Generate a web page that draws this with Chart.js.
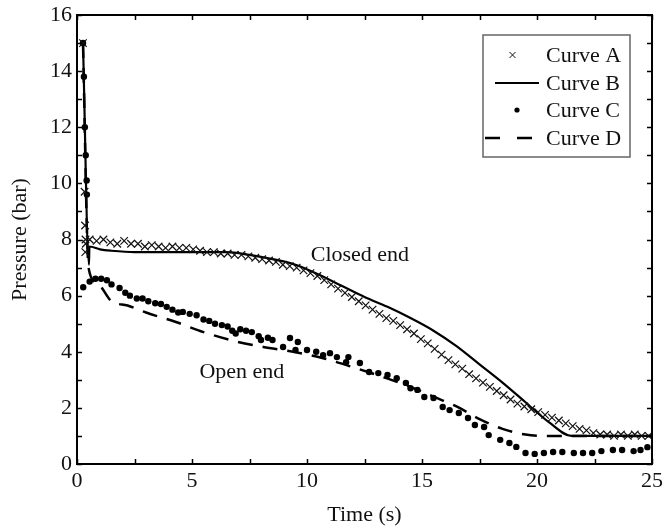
<!DOCTYPE html>
<html>
<head>
<meta charset="utf-8">
<script src="https://cdn.jsdelivr.net/npm/chart.js@4/dist/chart.umd.min.js"></script>
<style>
html,body{margin:0;padding:0;background:#fff;}
#wrap{width:665px;height:531px;}
</style>
</head>
<body>
<div id="wrap"><canvas id="c" width="665" height="531"></canvas></div>
<script>
// ---------------- DATA ----------------
const seriesNames = ['Curve A', 'Curve B', 'Curve C', 'Curve D'];

// Curve A (× markers)
const timeA = [0.26, 0.33, 0.35, 0.36, 0.37, 0.38,
  0.55, 0.85, 1.15, 1.45, 1.75, 2.05, 2.35, 2.65, 2.95, 3.25,
  3.55, 3.85, 4.15, 4.45, 4.75, 5.05, 5.35, 5.65, 5.95, 6.25,
  6.55, 6.85, 7.15, 7.45, 7.75, 8.05, 8.35, 8.65, 8.95, 9.25,
  9.55, 9.85, 10.15, 10.45, 10.75, 11.05, 11.35, 11.65, 11.95, 12.25,
  12.55, 12.85, 13.15, 13.45, 13.75, 14.05, 14.35, 14.65, 14.95, 15.25,
  15.55, 15.85, 16.15, 16.45, 16.75, 17.05, 17.35, 17.65, 17.95, 18.25,
  18.55, 18.85, 19.15, 19.45, 19.75, 20.05, 20.35, 20.65, 20.95, 21.25,
  21.55, 21.85, 22.15, 22.45, 22.75, 23.05, 23.35, 23.65, 23.95, 24.25,
  24.55, 24.85];
const pressureA = [15.0, 9.7, 8.5, 7.55, 8.0, 7.85,
  8.0, 7.95, 8.0, 7.9, 7.85, 7.95, 7.85, 7.85, 7.75, 7.8,
  7.75, 7.7, 7.75, 7.7, 7.7, 7.65, 7.6, 7.55, 7.55, 7.5,
  7.5, 7.45, 7.45, 7.4, 7.35, 7.3, 7.25, 7.2, 7.1, 7.05,
  7.0, 6.9, 6.8, 6.7, 6.55, 6.4, 6.25, 6.1, 5.95, 5.8,
  5.65, 5.5, 5.35, 5.2, 5.1, 4.95, 4.8, 4.65, 4.45, 4.3,
  4.1, 3.9, 3.7, 3.55, 3.4, 3.2, 3.05, 2.9, 2.75, 2.6,
  2.45, 2.3, 2.15, 2.05, 1.95, 1.85, 1.75, 1.65, 1.55, 1.45,
  1.35, 1.25, 1.2, 1.1, 1.05, 1.05, 1.0, 1.05, 1.0, 1.05,
  1.0, 1.0];

// Curve B (solid line)
const timeB = [0.26, 0.52, 0.54, 1.0, 1.5, 2.5, 4.0, 5.5, 6.5, 7.5, 8.5, 9.5, 10.5,
  11.5, 12.5, 13.5, 14.5, 15.5, 16.5, 17.5, 18.5, 19.5, 20.5, 21.5, 25];
const pressureB = [15.0, 7.1, 7.75, 7.65, 7.6, 7.55, 7.55, 7.55, 7.55, 7.45, 7.3, 7.1, 6.75,
  6.35, 5.95, 5.6, 5.2, 4.75, 4.2, 3.55, 2.9, 2.2, 1.5, 1.0, 1.0];

// Curve C (● markers)
const timeC = [0.26, 0.3, 0.34, 0.38, 0.42, 0.43, 0.27, 0.55, 0.8, 1.05,
  1.3, 1.5, 1.85, 2.1, 2.3, 2.6, 2.85, 3.1, 3.4, 3.65,
  3.9, 4.15, 4.4, 4.6, 4.9, 5.2, 5.5, 5.75, 6.0, 6.3,
  6.55, 6.75, 6.9, 7.1, 7.35, 7.6, 7.9, 8.0, 8.3, 8.5,
  8.96, 9.26, 9.5, 9.6, 10.0, 10.4, 10.7, 11.0, 11.3, 11.7,
  11.8, 12.3, 12.7, 13.1, 13.5, 13.9, 14.3, 14.5, 14.8, 15.1,
  15.5, 15.9, 16.2, 16.6, 17.0, 17.3, 17.7, 17.9, 18.4, 18.8,
  19.1, 19.5, 19.9, 20.3, 20.7, 21.1, 21.6, 22.0, 22.4, 22.8,
  23.3, 23.7, 24.2, 24.5, 24.8];
const pressureC = [15.0, 13.8, 12.0, 11.0, 10.1, 9.6, 6.3, 6.5, 6.6, 6.6,
  6.55, 6.4, 6.27, 6.1, 6.0, 5.9, 5.9, 5.8, 5.73, 5.7,
  5.6, 5.5, 5.4, 5.42, 5.35, 5.3, 5.15, 5.1, 5.0, 4.95,
  4.9, 4.75, 4.65, 4.8, 4.75, 4.7, 4.55, 4.42, 4.5, 4.42,
  4.17, 4.49, 4.06, 4.35, 4.06, 4.0, 3.88, 3.95, 3.81, 3.63,
  3.81, 3.6, 3.28, 3.24, 3.17, 3.06, 2.89, 2.7, 2.64, 2.39,
  2.35, 2.03, 1.92, 1.82, 1.64, 1.39, 1.32, 1.03, 0.86, 0.75,
  0.61, 0.39, 0.36, 0.39, 0.43, 0.43, 0.39, 0.39, 0.39, 0.46,
  0.5, 0.5, 0.46, 0.5, 0.6];

// Curve D (dashed line)
const timeD = [0.26, 0.5, 0.87, 1.5, 2.2, 3.0, 4.3, 5.5, 7.0, 8.1, 9.4, 10.7, 12.0,
  13.3, 14.5, 15.5, 16.5, 17.5, 18.5, 19.5, 20.5, 21.5, 25];
const pressureD = [15.0, 7.0, 6.45, 5.8, 5.65, 5.4, 5.06, 4.7, 4.35, 4.17, 4.0, 3.77, 3.45,
  3.1, 2.75, 2.4, 2.05, 1.6, 1.25, 1.05, 1.0, 1.0, 1.0];

// Axes
const xTickLabels = [0, 5, 10, 15, 20, 25];
const yTickLabels = [0, 2, 4, 6, 8, 10, 12, 14, 16];
const xTickMarks = [0, 2.5, 5, 7.5, 10, 12.5, 15, 17.5, 20, 22.5, 25];
const yTickMarks = [0, 1, 2, 3, 4, 5, 6, 7, 8, 9, 10, 11, 12, 13, 14, 15, 16];
const xTitle = 'Time (s)';
const yTitle = 'Pressure (bar)';

// Text annotations (data coordinates)
const noteTexts = ['Closed end', 'Open end'];
const noteTimes = [12.3, 7.17];
const notePressures = [7.45, 3.28];

// ---------------- BUILD ----------------
const zip = (t, p) => t.map((v, i) => ({x: v, y: p[i]}));
const FONT = '"Liberation Serif", "Times New Roman", serif';

const datasets = [
  {label: seriesNames[0], data: zip(timeA, pressureA), showLine: false,
   pointStyle: 'crossRot', pointRadius: 5.3, pointBorderWidth: 1.2, borderColor: '#111', backgroundColor: '#111'},
  {label: seriesNames[1], data: zip(timeB, pressureB), showLine: true, pointRadius: 0,
   borderColor: '#000', borderWidth: 2.2, cubicInterpolationMode: 'monotone'},
  {label: seriesNames[2], data: zip(timeC, pressureC), showLine: false,
   pointStyle: 'circle', pointRadius: 3.2, pointBorderWidth: 0, borderColor: '#000', backgroundColor: '#000'},
  {label: seriesNames[3], data: zip(timeD, pressureD), showLine: true, pointRadius: 0,
   borderColor: '#000', borderWidth: 2.5, borderDash: [15, 10], cubicInterpolationMode: 'monotone'}
];

const framePlugin = {
  id: 'frame',
  afterDatasetsDraw(chart) {
    const {ctx, chartArea: a, scales: {x, y}} = chart;
    ctx.save();
    ctx.strokeStyle = '#000';
    ctx.lineWidth = 2;
    ctx.strokeRect(a.left, a.top, a.right - a.left, a.bottom - a.top);
    ctx.lineWidth = 1.5;
    ctx.beginPath();
    xTickMarks.forEach(v => {
      const px = Math.round(x.getPixelForValue(v)) + 0.5;
      ctx.moveTo(px, a.bottom); ctx.lineTo(px, a.bottom - 5);
      ctx.moveTo(px, a.top); ctx.lineTo(px, a.top + 5);
    });
    yTickMarks.forEach(v => {
      const py = Math.round(y.getPixelForValue(v)) + 0.5;
      ctx.moveTo(a.left, py); ctx.lineTo(a.left + 5, py);
      ctx.moveTo(a.right, py); ctx.lineTo(a.right - 5, py);
    });
    ctx.stroke();

    // annotations
    ctx.fillStyle = '#111';
    ctx.font = '22px ' + FONT;
    ctx.textAlign = 'center';
    ctx.textBaseline = 'middle';
    noteTexts.forEach((t, i) => {
      ctx.fillText(t, x.getPixelForValue(noteTimes[i]), y.getPixelForValue(notePressures[i]));
    });

    // legend
    const L = {x: 483, y: 35, w: 147, h: 122};
    ctx.fillStyle = '#fff';
    ctx.fillRect(L.x, L.y, L.w, L.h);
    ctx.strokeStyle = '#666';
    ctx.lineWidth = 1.5;
    ctx.strokeRect(L.x, L.y, L.w, L.h);
    const rows = [55, 83, 110, 138];
    ctx.textAlign = 'left';
    ctx.fillStyle = '#111';
    seriesNames.forEach((n, i) => ctx.fillText(n, 546, rows[i] + 1));
    // A marker
    ctx.strokeStyle = '#111'; ctx.lineWidth = 1;
    ctx.beginPath();
    ctx.moveTo(509.5, rows[0] - 3); ctx.lineTo(515.5, rows[0] + 3);
    ctx.moveTo(515.5, rows[0] - 3); ctx.lineTo(509.5, rows[0] + 3);
    ctx.stroke();
    // B line
    ctx.strokeStyle = '#000'; ctx.lineWidth = 2.2;
    ctx.beginPath(); ctx.moveTo(495, rows[1]); ctx.lineTo(539, rows[1]); ctx.stroke();
    // C dot
    ctx.fillStyle = '#000';
    ctx.beginPath(); ctx.arc(517, rows[2], 2.6, 0, Math.PI * 2); ctx.fill();
    // D dashes
    ctx.lineWidth = 2.6;
    ctx.beginPath();
    ctx.moveTo(485, rows[3]); ctx.lineTo(500, rows[3]);
    ctx.moveTo(517, rows[3]); ctx.lineTo(532, rows[3]);
    ctx.stroke();
    ctx.restore();
  }
};

new Chart(document.getElementById('c'), {
  type: 'scatter',
  data: {datasets},
  plugins: [framePlugin],
  options: {
    responsive: false,
    animation: false,
    devicePixelRatio: 1,
    layout: {padding: {left: 0, right: 13, top: 15, bottom: 0}},
    plugins: {legend: {display: false}, tooltip: {enabled: false}},
    scales: {
      x: {
        type: 'linear', min: 0, max: 25,
        afterBuildTicks: s => { s.ticks = xTickLabels.map(v => ({value: v})); },
        afterFit: s => { s.height = 67; s.paddingLeft = 0; s.paddingRight = 0; },
        grid: {display: false, drawTicks: false},
        border: {display: false},
        ticks: {color: '#111', font: {family: FONT, size: 22}, padding: 4, maxRotation: 0},
        title: {display: true, text: xTitle, color: '#111', font: {family: FONT, size: 22}, padding: {top: 0, bottom: 3}}
      },
      y: {
        type: 'linear', min: 0, max: 16,
        afterBuildTicks: s => { s.ticks = yTickLabels.map(v => ({value: v})); },
        afterFit: s => { s.width = 77; s.paddingTop = 0; s.paddingBottom = 0; },
        grid: {display: false, drawTicks: false},
        border: {display: false},
        ticks: {color: '#111', font: {family: FONT, size: 22}, padding: 5},
        title: {display: true, text: yTitle, color: '#111', font: {family: FONT, size: 22}, padding: {top: 7, bottom: 0}}
      }
    }
  }
});
</script>
</body>
</html>
